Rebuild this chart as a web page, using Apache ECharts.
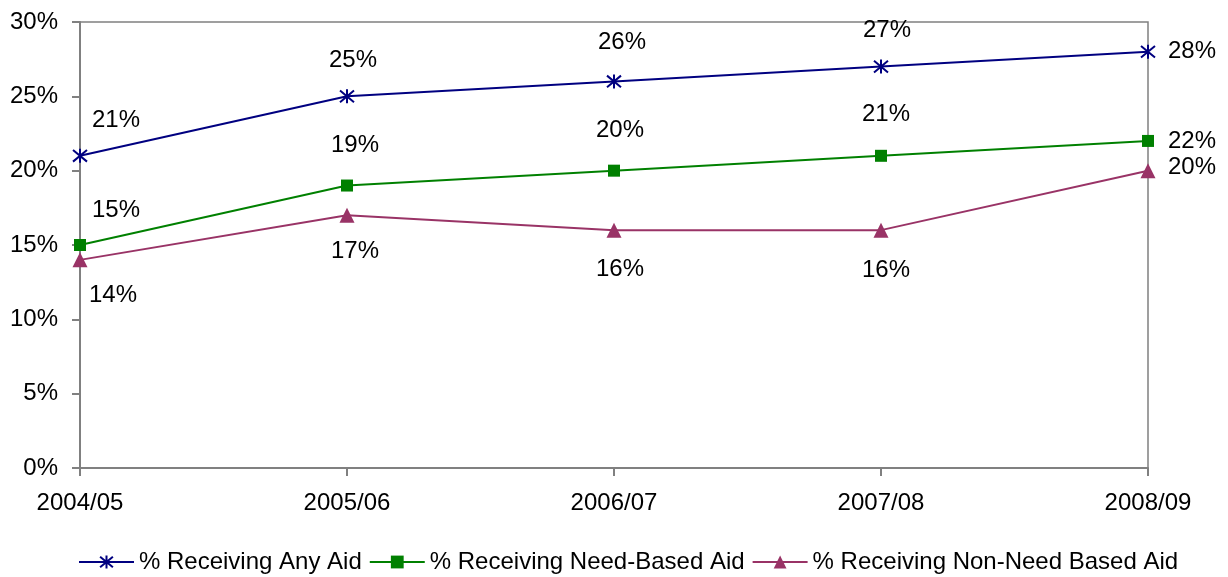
<!DOCTYPE html>
<html><head><meta charset="utf-8">
<script src="https://cdn.jsdelivr.net/npm/echarts@6/dist/echarts.min.js"></script>
<style>html,body{margin:0;padding:0;background:#fff}#c{width:1228px;height:577px}</style>
</head><body><div id="c"></div>
<script>
const categories = ['2004/05','2005/06','2006/07','2007/08','2008/09'];
const anyAid = [21, 25, 26, 27, 28];
const needAid = [15, 19, 20, 21, 22];
const nonNeedAid = [14, 17, 16, 16, 20];
const seriesNames = ['% Receiving Any Aid','% Receiving Need-Based Aid','% Receiving Non-Need Based Aid'];
const yTicks = {min:0, max:30, interval:5};

// label offsets (style only)
const offAny = [[36,-35],[6,-36],[8,-39],[6,-36],[44,0]];
const offNeed = [[36,-35],[8,-40],[6,-40],[5,-41],[44,0]];
const offNon = [[33,36],[8,36],[6,39],[5,40],[44,-3]];

const FONT = '"Liberation Sans", Arial, sans-serif';
const FS = 24;
function mk(vals, offs){
  return vals.map((v,i)=>({value:v, label:{offset:offs[i]}}));
}
const labelBase = {show:true, position:'inside', formatter:'{c}%', color:'#000', fontSize:FS, fontFamily:FONT};
const asterisk = 'path://M0,0L10,10M10,0L0,10M5,-1L5,11';

const chart = echarts.init(document.getElementById('c'));
chart.setOption({
  animation:false,
  backgroundColor:'#fff',
  textStyle:{fontFamily:FONT},
  grid:{left:80,right:80,top:22,bottom:109,show:true,borderColor:'#808080',borderWidth:1.5,backgroundColor:'transparent'},
  legend:{top:545,left:73,itemWidth:55,itemHeight:16,itemGap:7,
    textStyle:{fontSize:FS,color:'#000',fontFamily:FONT},
    data:seriesNames},
  xAxis:{type:'category',data:categories,boundaryGap:false,
    axisLine:{lineStyle:{color:'#808080',width:2}},
    axisTick:{show:true,length:8,lineStyle:{color:'#808080',width:2}},
    axisLabel:{color:'#000',fontSize:FS,margin:23,fontFamily:FONT},
    splitLine:{show:false}},
  yAxis:{type:'value',min:yTicks.min,max:yTicks.max,interval:yTicks.interval,
    axisLine:{show:true,lineStyle:{color:'#808080',width:2}},
    axisTick:{show:true,length:8,lineStyle:{color:'#808080',width:2}},
    axisLabel:{color:'#000',fontSize:FS,margin:22,formatter:'{value}%',fontFamily:FONT},
    splitLine:{show:false}},
  series:[
    {name:seriesNames[0],type:'line',data:mk(anyAid,offAny),symbol:asterisk,symbolSize:14,
      lineStyle:{color:'#000080',width:2},itemStyle:{color:'#000080',borderColor:'#000080',borderWidth:2},label:labelBase},
    {name:seriesNames[1],type:'line',data:mk(needAid,offNeed),symbol:'rect',symbolSize:12,
      lineStyle:{color:'#008000',width:2},itemStyle:{color:'#008000'},label:labelBase},
    {name:seriesNames[2],type:'line',data:mk(nonNeedAid,offNon),symbol:'triangle',symbolSize:15,
      lineStyle:{color:'#993366',width:2},itemStyle:{color:'#993366'},label:labelBase}
  ]
});
</script></body></html>
